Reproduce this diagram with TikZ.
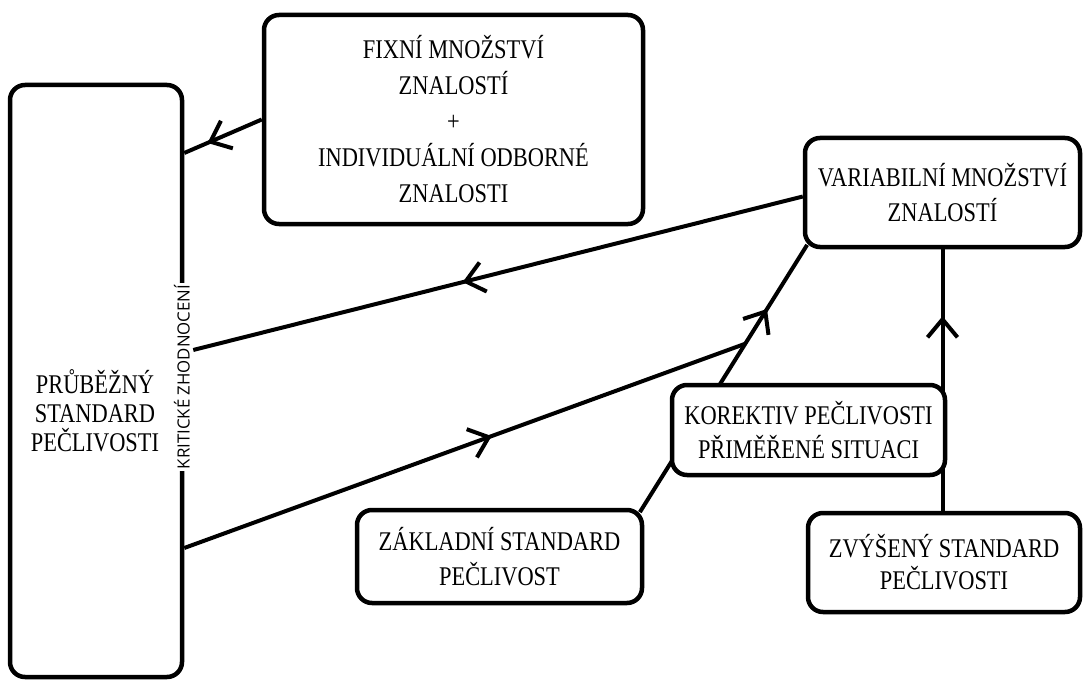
\documentclass[tikz,border=0pt]{standalone}
\usepackage{fontspec}
\setmainfont{Liberation Serif}[FakeStretch=0.83]
\newfontfamily\critfont{Open Sans}
\usetikzlibrary{arrows.meta,decorations.markings,calc}
\pgfdeclarelayer{bg}
\pgfsetlayers{bg,main}
\tikzset{
 box/.style={draw, line width=4.5pt, rounded corners=15pt, fill=white, inner sep=0pt, align=center, font=\fontsize{27}{35}\selectfont},
 txt/.style={align=center, inner sep=0pt},
 conn/.style={line width=4pt, postaction={decorate}},
 midarrow/.style={decoration={markings, mark=at position #1 with {\arrow{Straight Barb[length=18pt,width=30pt,line width=4pt]}}}},
}
\begin{document}
\begin{tikzpicture}[x=1pt,y=-1pt]
\useasboundingbox (0,0) rectangle (1084,682);
% boxes
\node[box, minimum width=172pt, minimum height=592pt] (big) at (96,381) {};
\node[txt, font=\fontsize{27}{29}\selectfont] (bigtxt) at (95,411) {PRŮBĚŽNÝ\\STANDARD\\PEČLIVOSTI};
\node[rotate=90, fill=white, inner sep=1.5pt, font=\critfont\fontsize{16.8}{17}\selectfont] (crit) at (182,377) {KRITICKÉ ZHODNOCENÍ};
\node[box, minimum width=379pt, minimum height=209pt, font=\fontsize{27}{36}\selectfont] (fix) at (453.5,119.5) {FIXNÍ MNOŽSTVÍ\\ZNALOSTÍ\\+\\INDIVIDUÁLNÍ ODBORNÉ\\ZNALOSTI};
\node[box, minimum width=275pt, minimum height=109pt] (var) at (942.5,192.5) {VARIABILNÍ MNOŽSTVÍ\\ZNALOSTÍ};
\node[box, minimum width=273pt, minimum height=90pt, font=\fontsize{27}{34}\selectfont] (kor) at (808.5,430) {KOREKTIV PEČLIVOSTI\\PŘIMĚŘENÉ SITUACI};
\node[box, minimum width=285pt, minimum height=93pt] (zak) at (499.5,556.5) {ZÁKLADNÍ STANDARD\\PEČLIVOST};
\node[box, minimum width=272pt, minimum height=99pt, font=\fontsize{27}{32}\selectfont] (zvy) at (944,562.5) {ZVÝŠENÝ STANDARD\\PEČLIVOSTI};
% connector end points
\coordinate (z1) at ($(zak.north east)+(-4.4,4.4)$);
\coordinate (v1) at ($(var.south west)+(4.4,-4.4)$);
\coordinate (j) at ($(z1)!0.63!(v1)$);
\begin{pgfonlayer}{bg}
\draw[conn, midarrow=0.70] (fix.west) -- (big.east |- 0,153);
\draw[conn, midarrow=0.558] ($(var.west)+(0,4)$) -- ($(big.east |- 0,350)+(9,0)$);
\draw[conn, midarrow=0.548] (big.east |- 0,548) -- (j);
\draw[conn, midarrow=0.76] (z1) -- (v1);
\draw[conn, midarrow=0.744] (var.south |- zvy.north) -- (var.south);
\end{pgfonlayer}
\end{tikzpicture}
\end{document}
